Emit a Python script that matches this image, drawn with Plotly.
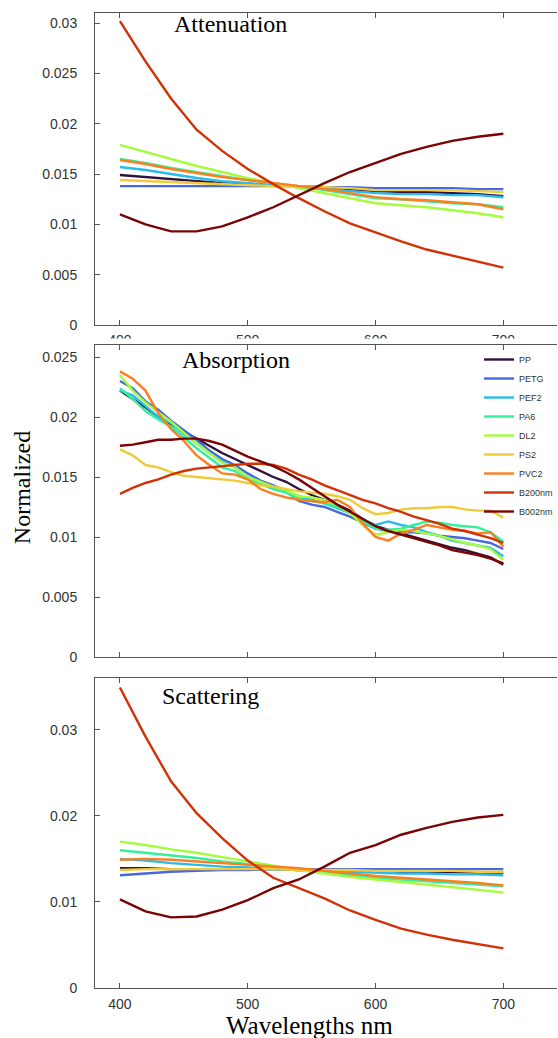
import plotly.graph_objects as go

# ---------------- data ----------------
wl_20 = list(range(400, 701, 20))
wl_10 = list(range(400, 701, 10))

names = ["PP", "PETG", "PEF2", "PA6", "DL2", "PS2", "PVC2", "B200nm", "B002nm"]
colors = ["#30123B", "#4669E0", "#28BBEB", "#32F19A", "#A4FC3C",
          "#EFCB3A", "#FB7E21", "#D23105", "#7A0403"]

# Attenuation (20 nm steps)
att_PP     = [0.0149, 0.0147, 0.0145, 0.0143, 0.0141, 0.0140, 0.0139, 0.0138, 0.0137, 0.0135, 0.0133, 0.0132, 0.0132, 0.0131, 0.0130, 0.0128]
att_PETG   = [0.0138, 0.0138, 0.0138, 0.0138, 0.0138, 0.0138, 0.0138, 0.0138, 0.0137, 0.0137, 0.0136, 0.0136, 0.0136, 0.0136, 0.0135, 0.0135]
att_PEF2   = [0.0157, 0.0154, 0.0150, 0.0146, 0.0143, 0.0141, 0.0139, 0.0137, 0.0135, 0.0133, 0.0131, 0.0130, 0.0130, 0.0129, 0.0129, 0.0127]
att_PA6    = [0.0165, 0.0161, 0.0156, 0.0152, 0.0148, 0.0144, 0.0141, 0.0138, 0.0134, 0.0130, 0.0126, 0.0125, 0.0123, 0.0121, 0.0120, 0.0117]
att_DL2    = [0.0179, 0.0172, 0.0165, 0.0158, 0.0152, 0.0146, 0.0141, 0.0136, 0.0131, 0.0126, 0.0121, 0.0119, 0.0117, 0.0114, 0.0111, 0.0107]
att_PS2    = [0.0144, 0.0143, 0.0142, 0.0141, 0.0140, 0.0139, 0.0138, 0.0138, 0.0137, 0.0136, 0.0134, 0.0134, 0.0134, 0.0134, 0.0133, 0.0132]
att_PVC2   = [0.0164, 0.0160, 0.0155, 0.0151, 0.0147, 0.0144, 0.0141, 0.0138, 0.0135, 0.0131, 0.0127, 0.0125, 0.0124, 0.0122, 0.0120, 0.0115]
att_B200nm = [0.0302, 0.0262, 0.0225, 0.0194, 0.0173, 0.0155, 0.0140, 0.0126, 0.0113, 0.0101, 0.0092, 0.0083, 0.0075, 0.0069, 0.0063, 0.0057]
att_B002nm = [0.0110, 0.0100, 0.0093, 0.0093, 0.0098, 0.0107, 0.0117, 0.0129, 0.0141, 0.0152, 0.0161, 0.0170, 0.0177, 0.0183, 0.0187, 0.0190]

# Absorption (10 nm steps)
abs_PP     = [0.0222, 0.0215, 0.0208, 0.0200, 0.0194, 0.0188, 0.0182, 0.0176, 0.0170, 0.0165, 0.0160, 0.0155, 0.0150, 0.0146, 0.0140, 0.0135,
              0.0131, 0.0127, 0.0122, 0.0115, 0.0109, 0.0106, 0.0103, 0.0100, 0.0097, 0.0094, 0.0091, 0.0089, 0.0086, 0.0083, 0.0077]
abs_PETG   = [0.0230, 0.0224, 0.0213, 0.0206, 0.0197, 0.0189, 0.0181, 0.0172, 0.0165, 0.0160, 0.0153, 0.0147, 0.0143, 0.0138, 0.0130, 0.0127,
              0.0125, 0.0121, 0.0117, 0.0112, 0.0107, 0.0105, 0.0104, 0.0104, 0.0103, 0.0101, 0.0100, 0.0099, 0.0097, 0.0095, 0.0090]
abs_PEF2   = [0.0222, 0.0218, 0.0209, 0.0200, 0.0195, 0.0186, 0.0178, 0.0170, 0.0163, 0.0158, 0.0150, 0.0146, 0.0141, 0.0138, 0.0134, 0.0131,
              0.0128, 0.0124, 0.0120, 0.0115, 0.0110, 0.0113, 0.0110, 0.0108, 0.0104, 0.0101, 0.0097, 0.0095, 0.0093, 0.0091, 0.0084]
abs_PA6    = [0.0224, 0.0215, 0.0205, 0.0198, 0.0192, 0.0183, 0.0174, 0.0166, 0.0158, 0.0155, 0.0148, 0.0144, 0.0140, 0.0137, 0.0132, 0.0130,
              0.0128, 0.0125, 0.0120, 0.0113, 0.0107, 0.0106, 0.0107, 0.0110, 0.0113, 0.0112, 0.0110, 0.0109, 0.0108, 0.0104, 0.0096]
abs_DL2    = [0.0235, 0.0222, 0.0212, 0.0204, 0.0196, 0.0187, 0.0178, 0.0170, 0.0162, 0.0158, 0.0150, 0.0146, 0.0142, 0.0139, 0.0134, 0.0133,
              0.0131, 0.0127, 0.0120, 0.0110, 0.0102, 0.0104, 0.0106, 0.0105, 0.0103, 0.0101, 0.0098, 0.0095, 0.0093, 0.0090, 0.0081]
abs_PS2    = [0.0173, 0.0168, 0.0160, 0.0158, 0.0154, 0.0151, 0.0150, 0.0149, 0.0148, 0.0147, 0.0145, 0.0143, 0.0142, 0.0140, 0.0138, 0.0137,
              0.0136, 0.0134, 0.0131, 0.0124, 0.0119, 0.0120, 0.0123, 0.0124, 0.0124, 0.0125, 0.0125, 0.0123, 0.0122, 0.0122, 0.0116]
abs_PVC2   = [0.0238, 0.0232, 0.0222, 0.0203, 0.0190, 0.0180, 0.0168, 0.0160, 0.0153, 0.0152, 0.0148, 0.0140, 0.0136, 0.0133, 0.0131, 0.0130,
              0.0129, 0.0131, 0.0125, 0.0111, 0.0100, 0.0097, 0.0103, 0.0106, 0.0110, 0.0108, 0.0106, 0.0105, 0.0103, 0.0104, 0.0092]
abs_B200nm = [0.0136, 0.0141, 0.0145, 0.0148, 0.0152, 0.0155, 0.0157, 0.0158, 0.0159, 0.0160, 0.0161, 0.0161, 0.0160, 0.0157, 0.0152, 0.0148,
              0.0143, 0.0139, 0.0135, 0.0131, 0.0128, 0.0124, 0.0121, 0.0117, 0.0114, 0.0111, 0.0107, 0.0105, 0.0102, 0.0099, 0.0095]
abs_B002nm = [0.0176, 0.0177, 0.0179, 0.0181, 0.0181, 0.0182, 0.0182, 0.0180, 0.0177, 0.0172, 0.0167, 0.0163, 0.0159, 0.0154, 0.0148, 0.0141,
              0.0134, 0.0127, 0.0121, 0.0115, 0.0109, 0.0105, 0.0102, 0.0099, 0.0096, 0.0093, 0.0089, 0.0087, 0.0085, 0.0082, 0.0078]

# Scattering (20 nm steps)
sca_PP     = [0.0139, 0.0139, 0.0138, 0.0138, 0.0138, 0.0138, 0.0138, 0.0137, 0.0136, 0.0136, 0.0135, 0.0135, 0.0135, 0.0135, 0.0134, 0.0134]
sca_PETG   = [0.0131, 0.0133, 0.0135, 0.0136, 0.0137, 0.0137, 0.0138, 0.0138, 0.0138, 0.0138, 0.0138, 0.0138, 0.0138, 0.0138, 0.0138, 0.0138]
sca_PEF2   = [0.0150, 0.0148, 0.0145, 0.0143, 0.0141, 0.0140, 0.0138, 0.0137, 0.0136, 0.0135, 0.0134, 0.0133, 0.0133, 0.0132, 0.0132, 0.0131]
sca_PA6    = [0.0160, 0.0157, 0.0154, 0.0151, 0.0147, 0.0144, 0.0141, 0.0137, 0.0134, 0.0131, 0.0128, 0.0126, 0.0124, 0.0122, 0.0120, 0.0118]
sca_DL2    = [0.0170, 0.0166, 0.0161, 0.0157, 0.0152, 0.0147, 0.0142, 0.0137, 0.0133, 0.0129, 0.0126, 0.0123, 0.0120, 0.0117, 0.0114, 0.0111]
sca_PS2    = [0.0137, 0.0138, 0.0138, 0.0138, 0.0138, 0.0138, 0.0138, 0.0137, 0.0137, 0.0137, 0.0136, 0.0136, 0.0136, 0.0136, 0.0135, 0.0135]
sca_PVC2   = [0.0149, 0.0150, 0.0149, 0.0147, 0.0145, 0.0143, 0.0141, 0.0139, 0.0136, 0.0133, 0.0130, 0.0128, 0.0126, 0.0124, 0.0122, 0.0119]
sca_B200nm = [0.0349, 0.0292, 0.0240, 0.0203, 0.0174, 0.0148, 0.0128, 0.0116, 0.0104, 0.0090, 0.0079, 0.0069, 0.0062, 0.0056, 0.0051, 0.0046]
sca_B002nm = [0.0103, 0.0089, 0.0082, 0.0083, 0.0091, 0.0102, 0.0116, 0.0126, 0.0141, 0.0157, 0.0166, 0.0178, 0.0186, 0.0193, 0.0198, 0.0201]

attenuation = [att_PP, att_PETG, att_PEF2, att_PA6, att_DL2, att_PS2, att_PVC2, att_B200nm, att_B002nm]
absorption = [abs_PP, abs_PETG, abs_PEF2, abs_PA6, abs_DL2, abs_PS2, abs_PVC2, abs_B200nm, abs_B002nm]
scattering = [sca_PP, sca_PETG, sca_PEF2, sca_PA6, sca_DL2, sca_PS2, sca_PVC2, sca_B200nm, sca_B002nm]

x_ticks = [400, 500, 600, 700]

# ---------------- figure ----------------
W, H = 558, 1038
ML, MR, MT, MB = 95, 0, 13, 50
PW = W - ML - MR
PH = H - MT - MB


def py(p):  # pixel-from-top -> paper y
    return (H - MB - p) / PH


def px(p):  # pixel-from-left -> paper x
    return (p - ML) / PW


fig = go.Figure()
LW = 2.4

for i, n in enumerate(names):
    fig.add_trace(go.Scatter(x=wl_20, y=attenuation[i], mode="lines", name=n,
                             line=dict(color=colors[i], width=LW),
                             xaxis="x", yaxis="y", showlegend=False))
for i, n in enumerate(names):
    fig.add_trace(go.Scatter(x=wl_10, y=absorption[i], mode="lines", name=n,
                             line=dict(color=colors[i], width=LW),
                             xaxis="x2", yaxis="y2", showlegend=True))
for i, n in enumerate(names):
    fig.add_trace(go.Scatter(x=wl_20, y=scattering[i], mode="lines", name=n,
                             line=dict(color=colors[i], width=LW),
                             xaxis="x3", yaxis="y3", showlegend=False))

tickfont = dict(family="Liberation Sans, Arial, sans-serif", size=14, color="#333333")
axcol = "#555555"
xrange_ = [380.5, 742]


def xax(anchor, labels, standoff):
    return dict(range=xrange_, anchor=anchor, tickvals=x_ticks,
                showticklabels=labels, ticks="inside", ticklen=5, tickcolor=axcol,
                showline=True, linecolor=axcol, linewidth=1, mirror="ticks",
                showgrid=False, zeroline=False, tickfont=tickfont,
                ticklabelstandoff=standoff)


def yax(anchor, dom, rng, dtick):
    return dict(domain=dom, range=rng, anchor=anchor, dtick=dtick, tick0=0,
                ticks="inside", ticklen=5, tickcolor=axcol,
                showline=True, linecolor=axcol, linewidth=1, mirror=False,
                showgrid=False, zeroline=False, tickfont=tickfont,
                ticklabelstandoff=14)


fig.update_layout(
    width=W, height=H,
    margin=dict(l=ML, r=MR, t=MT, b=MB),
    paper_bgcolor="white", plot_bgcolor="white",
    xaxis=xax("y", True, 2),
    xaxis2=xax("y2", False, 0),
    xaxis3=xax("y3", True, 3),
    yaxis=yax("x", [py(325), 1.0], [0, 0.031], 0.005),
    yaxis2=yax("x2", [py(657), py(345)], [0, 0.026], 0.005),
    yaxis3=yax("x3", [0, py(678)], [0, 0.036], 0.01),
    legend=dict(x=px(480), y=py(345), xanchor="left", yanchor="top",
                bgcolor="rgba(0,0,0,0)", borderwidth=0,
                font=dict(family="Liberation Sans, Arial, sans-serif", size=9, color="#333333"),
                itemwidth=30, tracegroupgap=0),
    showlegend=True,
)

# the middle panel hides the lower part of the top panel's tick labels
fig.add_shape(type="rect", xref="paper", yref="paper",
              x0=-0.01, x1=1.01, y0=py(344), y1=py(338.5),
              fillcolor="white", line=dict(width=0), layer="above")

serif = "Liberation Serif, Times New Roman, serif"
ann = [
    ("Attenuation", 231, 24, 24),
    ("Absorption", 236, 360, 24),
    ("Scattering", 211, 696, 24),
]
for t, xx, yy, s in ann:
    fig.add_annotation(text=t, x=px(xx), y=py(yy), xref="paper", yref="paper",
                       showarrow=False, xanchor="center", yanchor="middle",
                       font=dict(family=serif, size=s, color="black"))

fig.add_annotation(text="Normalized", x=px(22), y=py(488), xref="paper", yref="paper",
                   showarrow=False, textangle=-90, xanchor="center", yanchor="middle",
                   font=dict(family=serif, size=24, color="black"))
fig.add_annotation(text="Wavelengths nm", x=px(310), y=py(1025), xref="paper", yref="paper",
                   showarrow=False, xanchor="center", yanchor="middle",
                   font=dict(family=serif, size=25, color="black"))

fig.write_html("out.html", config={"displayModeBar": False},
               post_script="document.body.style.margin='0';document.body.style.overflow='hidden';")
